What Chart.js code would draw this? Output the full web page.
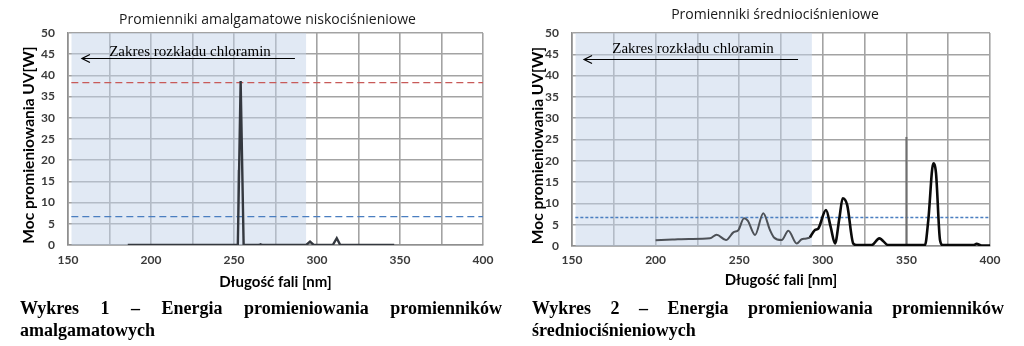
<!DOCTYPE html>
<html>
<head>
<meta charset="utf-8">
<script src="https://cdn.jsdelivr.net/npm/chart.js@4/dist/chart.umd.min.js"></script>
<style>
  html, body { margin: 0; padding: 0; background: #fff; width: 1024px; height: 346px; overflow: hidden; }
  canvas.panel { position: absolute; top: 0; }
  .caption {
    position: absolute;
    font-family: "Liberation Serif", "Times New Roman", serif;
    font-weight: bold;
    font-size: 18px;
    line-height: 20px;
    text-align: justify;
    text-align-last: left;
    color: #000;
    transform: scaleY(1.1);
    transform-origin: top left;
  }
</style>
</head>
<body>
<canvas id="lowPressure" class="panel" width="512" height="300" style="left:0"></canvas>
<canvas id="mediumPressure" class="panel" width="512" height="300" style="left:512px"></canvas>
<div class="caption" style="left:20px; top:296px; width:482px;">Wykres 1 – Energia promieniowania promienników amalgamatowych</div>
<div class="caption" style="left:532px; top:296px; width:472px;">Wykres 2 – Energia promieniowania promienników średniociśnieniowych</div>

<script>
// ---- text ----
const titleLow = 'Promienniki amalgamatowe niskociśnieniowe';
const titleMedium = 'Promienniki średniociśnieniowe';
const rangeLabel = 'Zakres rozkładu chloramin';
const xAxisTitle = 'Długość fali [nm]';
const yAxisTitle = 'Moc promieniowania UV[W]';

// ---- axes ----
const xMin = 150, xMax = 400, xGridStep = 25, xLabelStep = 50;
const yMin = 0, yMax = 50, yStep = 5;

// ---- low-pressure amalgam lamp spectrum [nm] / [W] ----
const lowWavelength = [186, 250, 252.3, 254, 255.8, 265, 266, 267, 293.5, 295.8, 298, 309.5, 311.9, 314, 346.5];
const lowPower      = [0,   0,   0,     38.7, 0,   0,   0.15, 0,  0,     0.8,   0,   0,     1.6,   0,   0];

// faint vertical trace beside the 254 nm line
const lowTraceWavelength = [252.4, 252.4];
const lowTracePower      = [0, 17.7];

// ---- medium-pressure lamp spectrum, part inside the chloramine range ----
const medWavelengthA = [200, 210, 220, 232.5, 236.5, 242.1, 246.5, 249.5, 252.9, 255.1, 259.5, 264.4, 268.4, 270.8, 275.4, 279.4, 284.4, 287.4, 289.4, 292.3];
const medPowerA      = [1.35, 1.5, 1.65, 1.8, 2.65, 1.4,  3.2,   3.75,  6.5,   5.95,  2.6,   7.7,   3.75,  2.0,   1.4,   3.6,   0.6,   1.6,   1.7,   2.0];

// ---- medium-pressure lamp spectrum, above the chloramine range ----
const medWavelengthB = [292.3, 295.3, 297.3, 301.9, 304.7, 307.3, 309.9, 311.9, 314.6, 318.2, 320.2, 329.2, 333.8, 339.2, 361.1, 363.1, 366.1, 367.7, 370.1, 371.7, 390, 392, 395, 400];
const medPowerB      = [2.0,   3.75,  4.1,   8.45,  4.5,   0.6,   6.5,   11.2,  9.6,   0.6,   0.2,   0.2,   1.8,   0.2,   0.2,   6.1,   19.4,  17.1,  1.4,   0.2,   0.2, 0.5, 0.1, 0.1];

// vertical trace at 350 nm
const medTraceWavelength = [350, 350];
const medTracePower      = [0, 25.6];

// ---- reference levels and chloramine range ----
const chloramineRange = [152, 293.5];
const lowRedLevel = 38.3;
const lowBlueLevel = 6.7;
const medBlueLevel = 6.7;

const toPoints = (xs, ys) => xs.map((v, i) => ({ x: v, y: ys[i] }));
const levelLine = (level) => [{ x: chloramineRange[0], y: level }, { x: xMax, y: level }];

const boldSans = 'Lato, "Liberation Sans", sans-serif';

// draws heading, vertical axis title, range label and arrow
const decorations = {
  id: 'decorations',
  afterDatasetsDraw(chart, args, opts) {
    const { ctx, chartArea, scales: { x, y } } = chart;
    ctx.save();
    ctx.textAlign = 'center';
    ctx.textBaseline = 'middle';

    ctx.font = '14px "Open Sans", "DejaVu Sans", sans-serif';
    ctx.fillStyle = '#1a1a1a';
    ctx.fillText(opts.title, (chartArea.left + chartArea.right) / 2 + opts.titleShift, opts.titleY);

    ctx.save();
    ctx.translate(opts.yTitleX, (chartArea.top + chartArea.bottom) / 2 + 6);
    ctx.rotate(-Math.PI / 2);
    ctx.font = 'bold 15.5px ' + boldSans;
    ctx.fillStyle = '#000';
    ctx.fillText(yAxisTitle, 0, 0);
    ctx.restore();

    ctx.font = '15px "Liberation Serif", "Times New Roman", serif';
    ctx.fillStyle = '#000';
    ctx.fillText(rangeLabel, x.getPixelForValue(opts.labelX), y.getPixelForValue(opts.labelY));

    const ax0 = x.getPixelForValue(opts.arrowFrom);
    const ax1 = x.getPixelForValue(opts.arrowTo);
    const ay = Math.round(y.getPixelForValue(opts.arrowY)) + 0.5;
    ctx.strokeStyle = '#000';
    ctx.lineWidth = 1.2;
    ctx.beginPath();
    ctx.moveTo(ax0, ay);
    ctx.lineTo(ax1, ay);
    ctx.moveTo(ax1 + 8, ay - 4);
    ctx.lineTo(ax1, ay);
    ctx.lineTo(ax1 + 8, ay + 4);
    ctx.stroke();
    ctx.restore();
  }
};

function buildChart(canvasId, datasets, layout) {
  return new Chart(document.getElementById(canvasId), {
    type: 'line',
    data: { datasets },
    plugins: [decorations],
    options: {
      responsive: false,
      animation: false,
      events: [],
      layout: { padding: { top: 33, right: layout.padRight, bottom: 0, left: 0 } },
      elements: { point: { radius: 0 } },
      plugins: {
        legend: { display: false },
        tooltip: { enabled: false },
        title: { display: false },
        decorations: layout.deco
      },
      scales: {
        x: {
          type: 'linear',
          min: xMin, max: xMax,
          afterFit: (s) => { s.height = layout.xHeight; },
          ticks: {
            stepSize: xGridStep,
            autoSkip: false,
            maxRotation: 0,
            padding: layout.xTickPad,
            color: '#3a3a3a',
            font: { family: boldSans, size: 12, weight: 'bold' },
            callback: (v) => (v % xLabelStep === 0 ? v : '')
          },
          grid: { color: '#a3a3a3', lineWidth: 1.6, drawTicks: false },
          border: { color: '#8f8f8f', width: 1.6 },
          title: {
            display: true,
            text: xAxisTitle,
            color: '#000',
            font: { family: boldSans, size: 15, weight: 'bold' },
            padding: { top: 0, bottom: layout.xTitlePad }
          }
        },
        y: {
          min: yMin, max: yMax,
          afterFit: (s) => { s.width = layout.yWidth; },
          ticks: {
            stepSize: yStep,
            padding: 13,
            color: '#3a3a3a',
            font: { family: boldSans, size: 12, weight: 'bold' }
          },
          grid: { color: '#a3a3a3', lineWidth: 1.6, drawTicks: false },
          border: { color: '#8f8f8f', width: 1.6 },
          title: { display: false }
        }
      }
    }
  });
}

const rangeShade = () => ({
  data: [{ x: chloramineRange[0], y: yMax }, { x: chloramineRange[1], y: yMax }],
  borderWidth: 0,
  backgroundColor: 'rgba(196, 212, 234, 0.5)',
  fill: 'origin',
  order: 10
});

buildChart('lowPressure', [
  { data: toPoints(lowWavelength, lowPower), borderColor: '#34383f', borderWidth: 2.4, tension: 0, order: 1 },
  { data: toPoints(lowTraceWavelength, lowTracePower), borderColor: '#9aa3ad', borderWidth: 1, order: 2 },
  { data: levelLine(lowRedLevel), borderColor: '#c85a58', borderWidth: 1.4, borderDash: [7, 4], order: 3 },
  { data: levelLine(lowBlueLevel), borderColor: '#4a7ec0', borderWidth: 1.4, borderDash: [7, 4], order: 3 },
  rangeShade()
], {
  padRight: 29, xHeight: 55, yWidth: 68, xTickPad: 8, xTitlePad: 9,
  deco: { title: titleLow, titleShift: -8, titleY: 20, yTitleX: 29, labelX: 223.5, labelY: 45.6, arrowFrom: 286.7, arrowTo: 158.4, arrowY: 44.1 }
});

buildChart('mediumPressure', [
  { data: toPoints(medWavelengthB, medPowerB), borderColor: '#0a0a0a', borderWidth: 2.6, cubicInterpolationMode: 'monotone', order: 1 },
  { data: toPoints(medWavelengthA, medPowerA), borderColor: '#4d5157', borderWidth: 2, cubicInterpolationMode: 'monotone', order: 1 },
  { data: toPoints(medTraceWavelength, medTracePower), borderColor: '#6f6f6f', borderWidth: 2, order: 2 },
  { data: levelLine(medBlueLevel), borderColor: '#4a7ec0', borderWidth: 1.4, borderDash: [3, 2], order: 3 },
  rangeShade()
], {
  padRight: 34, xHeight: 54, yWidth: 60, xTickPad: 7, xTitlePad: 11,
  deco: { title: titleMedium, titleShift: -6, titleY: 15, yTitleX: 26, labelX: 222.4, labelY: 46.2, arrowFrom: 285.2, arrowTo: 157.2, arrowY: 44 }
});
</script>
</body>
</html>
